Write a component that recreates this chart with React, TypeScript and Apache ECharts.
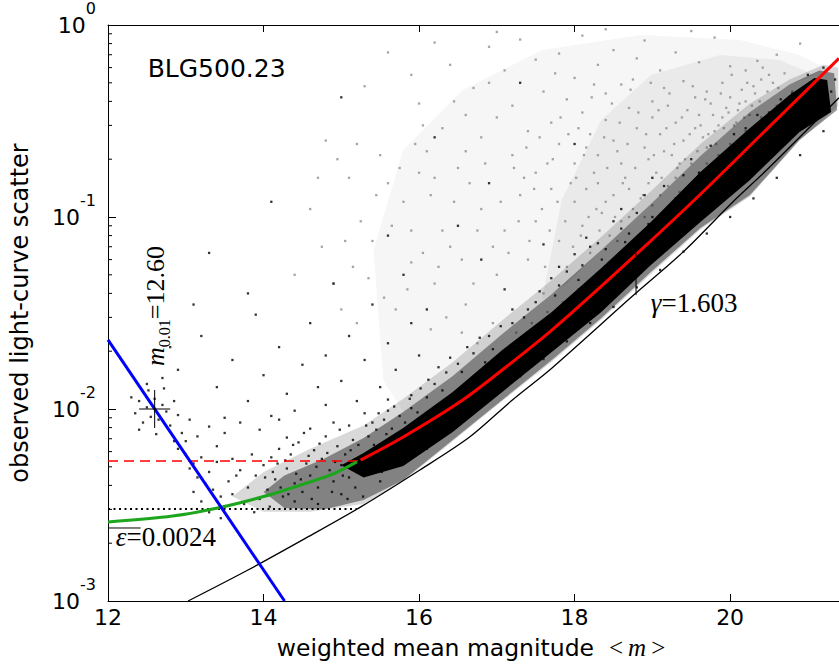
import React, { useEffect, useRef } from "react";
import * as echarts from "echarts";

// ---- axis values ----
const xMin = 12;
const xMax = 21.4;
const xTickStep = 2;
const yMin = 0.001;
const yMax = 1;
const yMinorTicks = [
  0.002, 0.003, 0.004, 0.005, 0.006, 0.007, 0.008, 0.009,
  0.02, 0.03, 0.04, 0.05, 0.06, 0.07, 0.08, 0.09,
  0.2, 0.3, 0.4, 0.5, 0.6, 0.7, 0.8, 0.9,
];

// ---- model curves ----
const redFit = [
  [15.248, 0.00542], [15.796, 0.00715], [16.561, 0.01114], [17.134, 0.01675], [17.707, 0.02577],
  [18.599, 0.0542], [19.554, 0.1241], [20.382, 0.264], [21.4, 0.67],
];
const redDashed = [[12, 0.00536], [15.22, 0.00536]];
const greenFit = [
  [12, 0.00258], [12.83, 0.00277], [13.41, 0.00305], [14.0, 0.0035],
  [14.52, 0.00407], [14.9, 0.0046], [15.2, 0.0053],
];
const blueLine = [[12, 0.0229], [14.27, 0.001]];
const noiseFloor = [[12, 0.00301], [15.2, 0.00301]];
const lowerEnvelope = [
  [13.03, 0.001], [13.8, 0.00145], [14.52, 0.0021], [15.25, 0.00309],
  [16.01, 0.00481], [16.65, 0.00714], [17.2, 0.01114], [17.71, 0.01636],
  [18.76, 0.0392], [19.4, 0.066], [20.06, 0.1227], [20.47, 0.1757], [21.4, 0.418],
];
const epsilonMark = [[12, 0.0024], [12.42, 0.0024]];
const gammaMark = [[18.79, 0.0649], [18.79, 0.0392]];
const crossH = [[12.4, 0.01], [12.8, 0.01]];
const crossV = [[12.6, 0.00796], [12.6, 0.01256]];

// outlines of the star clouds
const denseCore = [
  [15.0, 0.0051],
  [15.287, 0.0059], [15.796, 0.00796], [16.433, 0.01227], [17.07, 0.0203], [17.707, 0.032],
  [18.344, 0.0542], [18.981, 0.0942], [19.618, 0.1714], [20.255, 0.291], [20.764, 0.4317],
  [21.083, 0.53], [21.248, 0.517],
  [21.299, 0.352], [20.892, 0.277], [20.255, 0.156], [19.618, 0.0942], [18.981, 0.0562],
  [18.344, 0.032], [17.707, 0.0198], [17.07, 0.01227], [16.433, 0.00759], [15.796, 0.00505],
  [15.287, 0.0044],
];
const blackHalo = [
  [14.0, 0.0037],
  [14.268, 0.0045], [14.777, 0.0055], [15.287, 0.00706], [15.796, 0.00965], [16.433, 0.01486],
  [17.07, 0.0246], [17.707, 0.0397], [18.344, 0.0673], [18.981, 0.117], [19.618, 0.208],
  [20.255, 0.352], [20.764, 0.49], [21.146, 0.58], [21.338, 0.56],
  [21.376, 0.361], [20.892, 0.252], [20.255, 0.13], [19.618, 0.0877], [18.981, 0.0517],
  [18.344, 0.0298], [17.707, 0.018], [17.07, 0.01114], [16.433, 0.0069], [15.796, 0.00427],
  [15.287, 0.00336], [14.777, 0.003], [14.268, 0.00305],
];
const blackFringe = [
  [13.6, 0.0035],
  [14.0, 0.0047], [14.6, 0.0062], [15.287, 0.0082], [15.796, 0.0113], [16.433, 0.0175],
  [17.07, 0.029], [17.707, 0.047], [18.344, 0.079], [18.981, 0.136], [19.618, 0.24],
  [20.255, 0.39], [20.764, 0.52], [21.2, 0.62], [21.39, 0.6],
  [21.39, 0.38], [20.892, 0.25], [20.255, 0.128], [19.618, 0.0862], [18.981, 0.0505],
  [18.344, 0.0292], [17.707, 0.0176], [17.07, 0.011], [16.433, 0.0068], [15.796, 0.0042],
  [15.287, 0.0032], [14.6, 0.00292], [14.0, 0.00292],
];
const grayHaze = [
  [15.541, 0.01416], [15.414, 0.0673], [15.796, 0.2234], [16.561, 0.458], [17.58, 0.741],
  [18.854, 0.887], [20.127, 0.835], [20.892, 0.698], [21.274, 0.583],
  [20.764, 0.49], [20.255, 0.352], [19.618, 0.208], [18.981, 0.117], [18.344, 0.0673],
  [17.707, 0.0397], [17.07, 0.0246], [16.433, 0.01486], [15.796, 0.00965],
];
const grayDense = [
  [17.58, 0.037], [17.834, 0.1227], [18.344, 0.32], [18.981, 0.549], [19.873, 0.698],
  [20.637, 0.657], [21.083, 0.549],
  [20.764, 0.49], [20.255, 0.352], [19.618, 0.208], [18.981, 0.117], [18.344, 0.0673], [17.9, 0.045],
];

// sparse stars (estimated positions)
const grayStars = [
  [15.6, 0.72], [15.9, 0.55], [16.2, 0.81], [16.4, 0.62], [16.7, 0.47], [16.9, 0.77], [17.1, 0.58],
  [17.3, 0.84], [17.5, 0.66], [17.6, 0.45], [17.8, 0.71], [18.0, 0.53], [18.1, 0.88], [18.3, 0.62],
  [18.5, 0.74], [18.6, 0.49], [18.8, 0.67], [18.9, 0.83], [19.1, 0.58], [19.3, 0.72], [19.4, 0.51],
  [19.6, 0.64], [19.8, 0.86], [20.0, 0.61], [15.3, 0.48], [16.0, 0.39], [16.6, 0.34], [17.2, 0.38],
  [17.9, 0.41], [18.4, 0.44], [19.0, 0.4], [19.7, 0.45], [16.1, 0.22], [16.3, 0.29], [16.5, 0.18],
  [16.8, 0.26], [17.0, 0.33], [17.2, 0.21], [17.4, 0.28], [17.5, 0.17], [17.7, 0.31], [17.8, 0.24],
  [18.0, 0.19], [18.1, 0.35], [18.2, 0.27], [18.3, 0.21], [18.4, 0.32], [18.5, 0.25], [18.6, 0.19],
  [18.7, 0.37], [18.8, 0.29], [18.9, 0.23], [19.0, 0.33], [19.05, 0.17], [19.1, 0.27], [19.2, 0.38],
  [19.25, 0.21], [19.3, 0.31], [19.4, 0.25], [19.45, 0.36], [19.5, 0.19], [19.55, 0.29], [19.6, 0.34],
  [19.7, 0.23], [19.75, 0.39], [19.8, 0.28], [19.9, 0.33], [19.95, 0.37], [20.0, 0.42], [20.1, 0.36],
  [20.15, 0.46], [20.2, 0.4], [20.3, 0.48], [20.4, 0.52], [20.5, 0.55], [16.2, 0.045], [16.4, 0.07],
  [16.6, 0.035], [16.8, 0.11], [17.0, 0.05], [17.1, 0.085], [17.3, 0.13], [17.4, 0.06], [17.5, 0.095],
  [17.6, 0.04], [17.7, 0.14], [17.8, 0.075], [17.9, 0.055], [18.0, 0.12], [18.1, 0.09], [18.2, 0.065],
  [18.3, 0.15], [18.35, 0.105], [18.45, 0.08], [18.5, 0.13], [18.6, 0.095], [18.7, 0.14], [18.75, 0.11],
  [18.85, 0.125], [18.95, 0.15], [19.0, 0.115], [19.1, 0.13], [19.2, 0.145], [19.3, 0.16], [19.35, 0.135],
  [19.5, 0.15], [19.6, 0.17], [19.7, 0.19], [19.85, 0.21], [20.0, 0.24], [20.2, 0.28], [20.4, 0.33],
  [20.6, 0.38], [20.8, 0.45], [14.6, 0.11], [14.9, 0.045], [15.1, 0.16], [15.2, 0.028], [15.4, 0.075],
  [15.5, 0.21], [15.7, 0.033], [15.8, 0.12], [15.9, 0.058], [16.0, 0.17], [14.8, 0.25], [14.4, 0.05],
  [18.55, 0.22], [18.65, 0.16], [18.95, 0.2], [19.15, 0.22], [19.35, 0.19], [19.65, 0.26], [19.85, 0.3],
  [20.05, 0.3], [20.25, 0.34], [18.25, 0.17], [18.15, 0.23], [17.95, 0.15], [17.65, 0.19], [17.35, 0.16],
  [19.15, 0.47], [19.55, 0.42], [19.9, 0.5], [20.2, 0.58], [18.75, 0.52], [18.25, 0.49], [17.75, 0.56],
  [19.45, 0.12], [19.25, 0.1], [19.05, 0.085], [18.85, 0.075], [18.65, 0.065], [18.45, 0.058],
  [18.25, 0.048], [18.05, 0.042], [17.85, 0.036], [17.65, 0.032], [17.45, 0.028], [17.25, 0.025],
  [16.95, 0.028], [16.75, 0.022], [16.55, 0.025], [16.35, 0.03], [16.15, 0.026],
  [20.35, 0.65], [20.6, 0.7], [19.5, 0.93], [18.4, 0.95], [17.0, 0.92], [20.9, 0.8],
  [18.05, 0.29], [18.15, 0.14], [18.22, 0.42], [18.28, 0.11], [18.38, 0.26], [18.42, 0.18], [18.48, 0.39],
  [18.52, 0.1], [18.58, 0.31], [18.62, 0.15], [18.68, 0.24], [18.72, 0.46], [18.78, 0.18], [18.82, 0.35],
  [18.88, 0.13], [18.92, 0.27], [18.98, 0.5], [19.02, 0.21], [19.08, 0.36], [19.12, 0.16], [19.18, 0.29],
  [19.22, 0.44], [19.28, 0.24], [19.32, 0.18], [19.38, 0.33], [19.42, 0.2], [19.48, 0.27], [19.52, 0.48],
  [19.58, 0.22], [19.62, 0.3], [19.68, 0.41], [19.72, 0.27], [19.78, 0.34], [19.82, 0.24], [19.88, 0.44],
  [19.92, 0.29], [19.98, 0.35], [20.02, 0.55], [20.08, 0.31], [20.12, 0.39], [20.18, 0.33], [20.22, 0.5],
  [20.28, 0.38], [20.32, 0.44], [20.38, 0.4], [20.42, 0.6], [20.48, 0.45], [20.55, 0.5], [20.62, 0.47],
  [20.7, 0.56], [17.05, 0.12], [17.15, 0.065], [17.22, 0.18], [17.28, 0.095], [17.38, 0.23], [17.42, 0.075],
  [17.48, 0.14], [17.55, 0.26], [17.58, 0.11], [17.62, 0.055], [17.68, 0.085], [17.72, 0.2], [17.78, 0.12],
  [17.82, 0.33], [17.88, 0.095], [17.92, 0.27], [17.98, 0.07], [18.02, 0.16], [18.08, 0.08], [18.12, 0.21],
  [18.18, 0.1], [18.32, 0.085], [18.4, 0.12], [18.55, 0.075], [18.7, 0.1], [18.9, 0.1], [16.45, 0.12],
  [16.55, 0.06], [16.65, 0.15], [16.75, 0.085], [16.85, 0.19], [16.95, 0.07], [16.3, 0.085], [16.15, 0.13],
  [16.05, 0.065], [15.95, 0.24], [15.75, 0.18], [15.65, 0.09], [15.45, 0.13], [15.35, 0.048], [15.25, 0.095],
  [15.05, 0.075], [14.95, 0.2], [14.75, 0.07], [15.15, 0.055], [15.55, 0.038], [15.85, 0.042],
  [16.25, 0.055], [16.7, 0.045], [15.6, 0.15], [16.05, 0.3], [16.45, 0.4], [16.9, 0.5], [15.2, 0.24],
  [14.7, 0.16], [15.0, 0.033], [15.9, 0.085], [16.2, 0.16], [16.6, 0.22],
];

const blackStars = [
  // cluster near m = 12.6
  [12.35, 0.0095], [12.4, 0.011], [12.45, 0.0085], [12.5, 0.0102], [12.52, 0.0125], [12.55, 0.0091],
  [12.6, 0.0113], [12.65, 0.0088], [12.7, 0.0105], [12.72, 0.0128], [12.75, 0.0097], [12.8, 0.0082],
  [12.85, 0.011], [12.4, 0.0078], [12.62, 0.0074], [12.9, 0.0093], [12.5, 0.0135], [12.7, 0.0145],
  [12.95, 0.0075], [13.0, 0.0068], [12.3, 0.0115], [12.85, 0.0068], [13.05, 0.0088],
  // faint tail 12.9 - 14
  [12.9, 0.0062], [13.0, 0.0058], [13.05, 0.0049], [13.1, 0.0052], [13.15, 0.0044], [13.2, 0.0056],
  [13.25, 0.0041], [13.3, 0.0047], [13.35, 0.0038], [13.4, 0.0053], [13.45, 0.0035], [13.1, 0.0037],
  [13.2, 0.0033], [13.5, 0.0031], [13.55, 0.0042], [13.6, 0.0036], [13.7, 0.0048], [13.75, 0.0032],
  [13.8, 0.0039], [13.9, 0.0045], [13.95, 0.0034], [14.0, 0.0051], [13.3, 0.0029], [13.45, 0.0027],
  [13.6, 0.0055], [13.65, 0.0045], [13.85, 0.0058], [13.88, 0.0029], [13.4, 0.0064], [13.15, 0.0072],
  [13.5, 0.0075],
  // 14 - 16.3
  [14.05, 0.0038], [14.1, 0.0056], [14.15, 0.0043], [14.2, 0.0062], [14.25, 0.0035], [14.3, 0.0049],
  [14.35, 0.0058], [14.4, 0.0041], [14.45, 0.0067], [14.5, 0.0037], [14.55, 0.0052], [14.6, 0.0045],
  [14.65, 0.0061], [14.7, 0.0039], [14.75, 0.0055], [14.8, 0.0072], [14.85, 0.0048], [14.9, 0.0042],
  [14.95, 0.0064], [15.0, 0.0051], [15.05, 0.0058], [15.1, 0.0044], [15.15, 0.0069], [15.2, 0.0053],
  [15.25, 0.0047], [14.3, 0.0071], [14.6, 0.0079], [14.9, 0.0085], [15.1, 0.0082], [14.4, 0.0033],
  [14.7, 0.0032], [15.0, 0.0036], [14.12, 0.0047], [14.28, 0.0054], [14.42, 0.0046], [14.58, 0.0057],
  [14.68, 0.005], [14.82, 0.0059], [14.92, 0.0053], [15.02, 0.0045], [15.12, 0.0061], [15.22, 0.0065],
  [15.3, 0.0058], [15.35, 0.0072], [15.4, 0.0052], [15.45, 0.0078], [15.5, 0.006], [15.55, 0.0088],
  [15.6, 0.0067], [15.65, 0.0079], [15.7, 0.0057], [15.75, 0.0092], [15.85, 0.0068], [15.9, 0.0101],
  [15.95, 0.0078], [16.05, 0.0089], [16.1, 0.0115], [16.2, 0.0097], [16.3, 0.0125],
  [14.02, 0.0044], [14.08, 0.0031], [14.18, 0.0052], [14.22, 0.0039], [14.32, 0.0036], [14.38, 0.0065],
  [14.48, 0.0043], [14.52, 0.0075], [14.62, 0.0034], [14.72, 0.0066], [14.78, 0.0044], [14.88, 0.0037],
  [14.98, 0.0078], [15.08, 0.0034], [15.18, 0.0039], [15.28, 0.0035], [15.32, 0.0082], [15.42, 0.0065],
  [15.48, 0.0095], [15.52, 0.0047], [15.58, 0.0074], [15.68, 0.0103], [15.72, 0.0064], [15.82, 0.0085],
  [15.88, 0.0113], [15.98, 0.0096], [16.02, 0.0128], [16.12, 0.0142], [16.25, 0.0165], [16.4, 0.0185],
  [16.55, 0.0156], [16.62, 0.021], [16.78, 0.0235], [16.95, 0.0205], [17.05, 0.027], [17.2, 0.033],
  [17.35, 0.03], [17.55, 0.041], [17.7, 0.048], [17.9, 0.052], [18.0, 0.064], [18.15, 0.078],
  [18.3, 0.073], [18.5, 0.095], [18.6, 0.087], [18.8, 0.105], [18.9, 0.13], [19.15, 0.145], [19.4, 0.165],
  [19.5, 0.2], [19.75, 0.235], [20.05, 0.27], [20.35, 0.34], [20.65, 0.41],
  // sparse higher
  [12.9, 0.016], [13.2, 0.024], [13.4, 0.013], [13.6, 0.018], [13.8, 0.011], [13.9, 0.031], [14.0, 0.015],
  [14.2, 0.021], [14.3, 0.012], [14.5, 0.017], [14.6, 0.028], [14.7, 0.013], [14.8, 0.019], [14.9, 0.045],
  [15.0, 0.014], [15.1, 0.024], [15.2, 0.011], [15.3, 0.018], [15.4, 0.035], [15.5, 0.013], [15.6, 0.022],
  [15.7, 0.016], [15.8, 0.05], [15.9, 0.028], [16.0, 0.019], [16.1, 0.033], [13.5, 0.009], [13.7, 0.0085],
  [14.1, 0.0092], [14.4, 0.0098], [14.8, 0.0105], [15.3, 0.0095], [15.6, 0.0112], [14.2, 0.0088],
  [13.95, 0.0078], [13.3, 0.0081], [13.3, 0.065], [14.1, 0.12], [15.0, 0.42], [15.6, 0.08], [16.2, 0.26],
  [16.5, 0.09], [16.9, 0.15], [17.3, 0.5], [17.6, 0.072], [18.0, 0.24], [16.8, 0.06], [17.1, 0.042],
  [17.4, 0.033], [17.8, 0.055], [18.2, 0.07], [18.6, 0.11], [19.0, 0.16], [13.8, 0.04], [12.8, 0.021],
  [13.1, 0.035],
  // edges of the dense cloud
  [16.2, 0.0135], [16.5, 0.0172], [16.7, 0.0195], [16.9, 0.024], [17.2, 0.028], [17.5, 0.036],
  [17.8, 0.044], [18.1, 0.056], [18.4, 0.068], [18.7, 0.082], [19.0, 0.1], [19.3, 0.125], [19.6, 0.17],
  [19.9, 0.21], [20.2, 0.29], [20.5, 0.35], [20.8, 0.44], [21.0, 0.55], [21.2, 0.6], [15.9, 0.0118],
  [15.6, 0.0098], [15.4, 0.0085], [15.5, 0.0042], [15.8, 0.0052], [16.1, 0.0062], [16.4, 0.0078],
  [16.7, 0.0095], [17.0, 0.0122], [17.3, 0.0148], [17.6, 0.0182], [17.9, 0.0225], [18.2, 0.028],
  [18.5, 0.034], [18.8, 0.043], [19.1, 0.053], [19.4, 0.066], [19.7, 0.082], [20.0, 0.1], [20.3, 0.125],
  [20.6, 0.16], [20.9, 0.21], [21.2, 0.28], [21.3, 0.45], [21.25, 0.38], [21.35, 0.52],
  [16.35, 0.0155], [16.6, 0.0128], [16.85, 0.0175], [17.15, 0.0205], [17.45, 0.025], [17.75, 0.039],
  [18.05, 0.047], [18.35, 0.06], [18.65, 0.074], [18.95, 0.092], [19.25, 0.11], [19.55, 0.14],
];

const FONT = "DejaVu Sans";
const SERIF = "Liberation Serif";

function lineSeries(data: number[][], color: string, width: number, type: any = "solid", z = 5, smooth: any = 0.3) {
  return {
    type: "line",
    data,
    showSymbol: false,
    symbol: "none",
    smooth,
    lineStyle: { color, width, type },
    z,
    silent: true,
  };
}

function areaSeries(outline: number[][], fill: string, opacity: number, z: number) {
  return {
    type: "custom",
    data: outline,
    encode: { x: 0, y: 1 },
    silent: true,
    z,
    renderItem: (params: any, api: any) => {
      if (params.dataIndex !== 0) return null;
      const pts = outline.map((d) => api.coord(d));
      return { type: "polygon", shape: { points: pts }, style: { fill, opacity } };
    },
  };
}

export default function App() {
  const ref = useRef<HTMLDivElement>(null);
  useEffect(() => {
    if (!ref.current) return;
    const chart = echarts.init(ref.current, undefined, { renderer: "svg" });
    const supRich = {
      b: { fontSize: 22, fontFamily: FONT, color: "#000", verticalAlign: "middle", lineHeight: 22 },
      s: { fontSize: 16, fontFamily: FONT, color: "#000", verticalAlign: "bottom", lineHeight: 16, padding: [0, 0, 20, 0] },
    };
    const option: any = {
      animation: false,
      backgroundColor: "#fff",
      grid: { left: 102, top: 25, width: 738, height: 576, containLabel: false },
      xAxis: [
        {
          type: "value",
          min: xMin,
          max: xMax,
          interval: xTickStep,
          position: "bottom",
          name: "{a|weighted mean magnitude}{g| }{b|<}{c|m}{b|>}",
          nameLocation: "middle",
          nameGap: 34,
          nameTextStyle: {
            rich: {
              a: { fontSize: 23.5, fontFamily: FONT, color: "#000" },
              g: { fontSize: 23.5, fontFamily: FONT, color: "#000", width: 10 },
              b: { fontSize: 25, fontFamily: SERIF, color: "#000", padding: [0, 5, 0, 5] },
              c: { fontSize: 25, fontFamily: SERIF, fontStyle: "italic", color: "#000" },
            },
          },
          axisLine: { show: true, onZero: false, lineStyle: { color: "#000", width: 1 } },
          axisTick: { show: true, inside: true, length: 7, lineStyle: { color: "#000" } },
          axisLabel: {
            margin: 5,
            fontSize: 22,
            fontFamily: FONT,
            color: "#000",
            showMaxLabel: false,
            formatter: (v: number) => (Math.abs(v % 2) < 1e-9 ? String(v) : ""),
          },
          splitLine: { show: false },
        },
        {
          type: "value",
          min: xMin,
          max: xMax,
          interval: xTickStep,
          position: "top",
          axisLine: { show: true, onZero: false, lineStyle: { color: "#000", width: 1 } },
          axisTick: { show: true, inside: true, length: 7, lineStyle: { color: "#000" } },
          axisLabel: { show: false },
          splitLine: { show: false },
        },
      ],
      yAxis: [
        {
          type: "log",
          logBase: 10,
          min: yMin,
          max: yMax,
          name: "observed light-curve scatter",
          nameLocation: "middle",
          nameGap: 76,
          nameTextStyle: { fontSize: 24, fontFamily: FONT, color: "#000" },
          axisLine: { show: true, onZero: false, lineStyle: { color: "#000", width: 1 } },
          axisTick: { show: true, inside: true, length: 8, lineStyle: { color: "#000" } },
          axisLabel: {
            margin: 12,
            formatter: (v: number) => `{b|10}{s|${Math.round(Math.log10(v))}}`,
            rich: supRich,
          },
          splitLine: { show: false },
        },
      ],
      series: [
        areaSeries(grayHaze, "#f6f6f6", 1, 1),
        areaSeries(grayDense, "#eaeaea", 1, 1),
        {
          type: "scatter",
          data: grayStars,
          symbol: "rect",
          symbolSize: 2.3,
          itemStyle: { color: "#8f8f8f" },
          silent: true,
          z: 2,
        },
        areaSeries(blackFringe, "#000", 0.15, 3),
        areaSeries(blackHalo, "#000", 0.4, 3),
        areaSeries(denseCore, "#000", 1, 3),
        {
          type: "scatter",
          data: blackStars,
          symbol: "rect",
          symbolSize: 2.3,
          itemStyle: { color: "#000" },
          silent: true,
          z: 3,
        },
        {
          type: "custom",
          data: yMinorTicks.map((v) => [xMin, v]),
          encode: { x: 0, y: 1 },
          silent: true,
          z: 10,
          renderItem: (params: any, api: any) => {
            const p = api.coord([api.value(0), api.value(1)]);
            return {
              type: "line",
              shape: { x1: p[0], y1: p[1], x2: p[0] + 4, y2: p[1] },
              style: { stroke: "#000", lineWidth: 1 },
            };
          },
        },
        lineSeries(lowerEnvelope, "#000", 1.3, "solid", 4),
        lineSeries(noiseFloor, "#000", 2, [2, 3.5], 5, false),
        lineSeries(redDashed, "#ff0000", 1.3, [10, 6], 5, false),
        lineSeries(greenFit, "#1ea51e", 3, "solid", 6),
        lineSeries(redFit, "#ff0000", 3, "solid", 6),
        lineSeries(blueLine, "#0000ff", 3, "solid", 7, false),
        lineSeries(epsilonMark, "#000", 1, "solid", 7, false),
        lineSeries(gammaMark, "#000", 1, "solid", 7, false),
        lineSeries(crossH, "#000", 1, "solid", 8, false),
        lineSeries(crossV, "#000", 1, "solid", 8, false),
      ],
    };
    chart.setOption(option);

    const px = (d: number[]) => chart.convertToPixel({ gridIndex: 0 }, d) as number[];
    const pBLG = px([12.51, 0.597]);
    const pGamma = px([18.98, 0.0356]);
    const pEps = px([12.1, 0.00215]);
    const pM = px([12.61, 0.0344]);
    const mathRich = {
      i: { fontSize: 27, fontFamily: SERIF, fontStyle: "italic", fill: "#000" },
      n: { fontSize: 27, fontFamily: SERIF, fill: "#000" },
    };
    chart.setOption({
      graphic: [
        {
          type: "text",
          x: pBLG[0],
          y: pBLG[1],
          style: { text: "BLG500.23", font: `25px '${FONT}'`, fill: "#000", verticalAlign: "middle", align: "left" },
          z: 20,
        },
        {
          type: "text",
          x: pGamma[0],
          y: pGamma[1],
          style: { text: "{i|γ}{n|=1.603}", rich: mathRich, verticalAlign: "middle", align: "left" },
          z: 20,
        },
        {
          type: "text",
          x: pEps[0],
          y: pEps[1],
          style: { text: "{i|ε}{n|=0.0024}", rich: mathRich, verticalAlign: "middle", align: "left" },
          z: 20,
        },
        {
          type: "text",
          x: pM[0],
          y: pM[1],
          rotation: Math.PI / 2,
          style: {
            text: "{i|m}{s|0.01}{n|=12.60}",
            rich: {
              i: { fontSize: 26, fontFamily: SERIF, fontStyle: "italic", fill: "#000", verticalAlign: "middle", lineHeight: 24 },
              s: { fontSize: 16, fontFamily: SERIF, fill: "#000", verticalAlign: "top", lineHeight: 15, padding: [13, 0, 0, 0] },
              n: { fontSize: 26, fontFamily: SERIF, fill: "#000", verticalAlign: "middle", lineHeight: 24 },
            },
            verticalAlign: "middle",
            align: "center",
          },
          z: 20,
        },
      ],
    });
    return () => chart.dispose();
  }, []);
  return (
    <div
      ref={ref}
      style={{ position: "absolute", left: 0, top: 0, width: 839, height: 668, background: "#fff" }}
    />
  );
}
